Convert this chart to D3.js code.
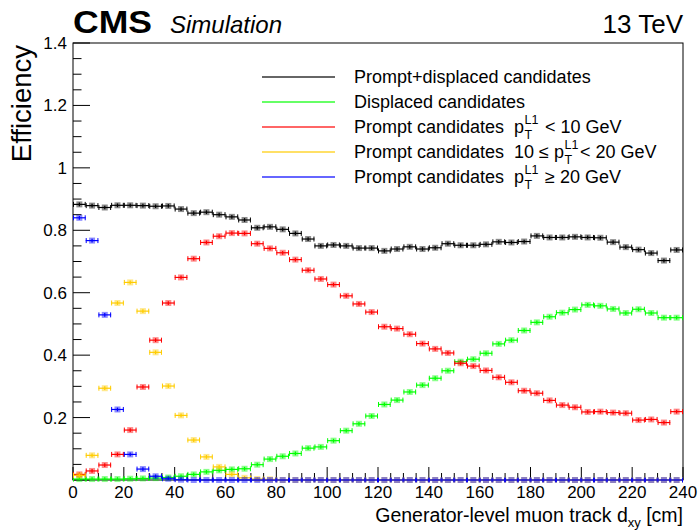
<!DOCTYPE html>
<html><head><meta charset="utf-8">
<script src="https://cdn.jsdelivr.net/npm/d3@7"></script>
<style>
html,body{margin:0;padding:0;background:#fff;}
text{font-family:"Liberation Sans",Arial,Helvetica,sans-serif;white-space:pre;}
</style></head>
<body><svg id="c" width="698" height="531"></svg>
<script>
// ---- data ----
const binCenters = [2.5,7.5,12.5,17.5,22.5,27.5,32.5,37.5,42.5,47.5,52.5,57.5,62.5,67.5,72.5,77.5,82.5,87.5,92.5,97.5,
  102.5,107.5,112.5,117.5,122.5,127.5,132.5,137.5,142.5,147.5,152.5,157.5,162.5,167.5,172.5,177.5,182.5,187.5,192.5,197.5,
  202.5,207.5,212.5,217.5,222.5,227.5,232.5,237.5];
const binHalfWidth = 2.5;
const promptDisplaced = [0.883,0.879,0.873,0.880,0.880,0.879,0.877,0.878,0.868,0.855,0.858,0.850,0.843,0.833,0.808,0.811,0.803,0.790,0.772,0.750,
  0.753,0.750,0.743,0.743,0.734,0.740,0.747,0.740,0.744,0.757,0.752,0.752,0.755,0.763,0.761,0.764,0.782,0.777,0.777,0.779,
  0.777,0.776,0.762,0.746,0.738,0.727,0.703,0.737];
const displaced = [0.003,0.003,0.003,0.003,0.004,0.005,0.006,0.008,0.012,0.018,0.026,0.031,0.034,0.036,0.049,0.067,0.076,0.085,0.102,0.106,
  0.126,0.158,0.180,0.205,0.242,0.256,0.282,0.304,0.326,0.350,0.379,0.387,0.406,0.436,0.448,0.479,0.505,0.523,0.536,0.546,
  0.561,0.558,0.548,0.535,0.547,0.535,0.520,0.520];
const promptLow = [0.018,0.029,0.048,0.082,0.160,0.298,0.448,0.567,0.649,0.709,0.761,0.781,0.791,0.790,0.757,0.742,0.728,0.706,0.672,0.644,
  0.626,0.590,0.564,0.538,0.491,0.485,0.467,0.437,0.420,0.407,0.374,0.365,0.351,0.329,0.313,0.286,0.278,0.255,0.240,0.233,
  0.218,0.219,0.216,0.214,0.192,0.194,0.184,0.219];
const promptMid = [0.015,0.079,0.294,0.567,0.633,0.541,0.409,0.301,0.207,0.128,0.074,0.042,0.018,0.007,0.003,0.002,0,0,0,0,
  0,0,0,0,0,0,0,0,0,0,0,0,0,0,0,0,0,0,0,0,0,0,0,0,0,0,0,0];
const promptHigh = [0.840,0.767,0.529,0.226,0.082,0.035,0.012,0.004,0.001,0,0,0,0,0,0,0,0,0,0,0,
  0,0,0,0,0,0,0,0,0,0,0,0,0,0,0,0,0,0,0,0,0,0,0,0,0,0,0,0];
const errY = [0.006,0.006,0.006,0.006,0.006];
const xTicks = [0,20,40,60,80,100,120,140,160,180,200,220,240];
const yTicks = [0.2,0.4,0.6,0.8,1,1.2,1.4];
const yTickLabels = ["0.2","0.4","0.6","0.8","1","1.2","1.4"];
const seriesNames = ["promptDisplaced","displaced","promptLow","promptMid","promptHigh"];
const seriesColors = ["#000000","#00ff00","#ff0000","#ffcc00","#0000ff"];
const legendLabels = [
  [{t:"Prompt+displaced candidates"}],
  [{t:"Displaced candidates"}],
  [{t:"Prompt candidates  p"},{sub:"T",sup:"L1"},{t:" < 10 GeV"}],
  [{t:"Prompt candidates  10 \u2264 p"},{sub:"T",sup:"L1"},{t:"< 20 GeV"}],
  [{t:"Prompt candidates  p"},{sub:"T",sup:"L1"},{t:" \u2265 20 GeV"}]
];
const seriesValues = [promptDisplaced, displaced, promptLow, promptMid, promptHigh];

// ---- layout ----
const svg = d3.select("#c");
const L = 73, R = 683, T = 43, B = 480;
const x = d3.scaleLinear().domain([0,240]).range([L,R]);
const y = d3.scaleLinear().domain([0,1.4]).range([B,T]);

// frame
svg.append("rect").attr("x",L).attr("y",T).attr("width",R-L).attr("height",B-T)
  .attr("fill","none").attr("stroke","#000").attr("stroke-width",1);

// x axis ticks (inward)
const xMinor = d3.range(0,241,5);
svg.append("g").selectAll("line").data(xMinor).join("line")
  .attr("x1",d=>x(d)).attr("x2",d=>x(d)).attr("y1",B).attr("y2",d=>B-(d%20===0?13:7))
  .attr("stroke","#000").attr("stroke-width",1);
svg.append("g").selectAll("text").data(xTicks).join("text")
  .attr("x",d=>x(d)).attr("y",498).attr("text-anchor","middle").attr("font-size",17).text(d=>d);

// y axis ticks
const yMinor = d3.range(0,1.401,0.05);
svg.append("g").selectAll("line").data(yMinor).join("line")
  .attr("x1",L).attr("x2",(d,i)=>L+(i%4===0?17:8.5)).attr("y1",d=>y(d)).attr("y2",d=>y(d))
  .attr("stroke","#000").attr("stroke-width",1);
svg.append("g").selectAll("text").data(yTicks).join("text")
  .attr("x",67).attr("y",d=>y(d)+6).attr("text-anchor","end").attr("font-size",17).text((d,i)=>yTickLabels[i]);

// axis titles
const xt = svg.append("text").attr("x",R).attr("y",522).attr("text-anchor","end").attr("font-size",19.5);
xt.append("tspan").text("Generator-level muon track d");
xt.append("tspan").attr("font-size",13).attr("dy",5).text("xy");
xt.append("tspan").attr("dy",-5).text(" [cm]");
svg.append("text").attr("transform",`translate(31,${T+2}) rotate(-90)`).attr("text-anchor","end")
  .attr("font-size",27.5).text("Efficiency");

// header
svg.append("text").attr("x",L).attr("y",33).attr("font-size",32).attr("font-weight","bold")
  .attr("textLength",79).attr("lengthAdjust","spacingAndGlyphs").text("CMS");
svg.append("text").attr("x",170).attr("y",33).attr("font-size",24).attr("font-style","italic").text("Simulation");
svg.append("text").attr("x",R).attr("y",33).attr("text-anchor","end").attr("font-size",26).text("13 TeV");

// series
const plot = svg.append("g");
seriesValues.forEach((vals, s) => {
  const col = seriesColors[s];
  const g = plot.append("g").attr("class", seriesNames[s]);
  const pts = binCenters.map((c,i)=>({c, v: vals[i]}));
  g.selectAll("rect").data(pts).join("rect")
    .attr("x",d=>x(d.c)-3).attr("y",d=>y(d.v)-3).attr("width",6).attr("height",6)
    .attr("fill",col).attr("fill-opacity",0.45);
  g.selectAll("line.h").data(pts).join("line").attr("class","h")
    .attr("x1",d=>x(d.c-binHalfWidth)).attr("x2",d=>x(d.c+binHalfWidth))
    .attr("y1",d=>y(d.v)).attr("y2",d=>y(d.v)).attr("stroke",col).attr("stroke-width",1.2);
  g.selectAll("line.cl").data(pts).join("line").attr("class","cl")
    .attr("x1",d=>x(d.c-binHalfWidth)+0.5).attr("x2",d=>x(d.c-binHalfWidth)+0.5)
    .attr("y1",d=>y(d.v)-2.5).attr("y2",d=>y(d.v)+2.5).attr("stroke",col).attr("stroke-width",1);
  g.selectAll("line.cr").data(pts).join("line").attr("class","cr")
    .attr("x1",d=>x(d.c+binHalfWidth)-0.5).attr("x2",d=>x(d.c+binHalfWidth)-0.5)
    .attr("y1",d=>y(d.v)-2.5).attr("y2",d=>y(d.v)+2.5).attr("stroke",col).attr("stroke-width",1);
  g.selectAll("line.v").data(pts.filter(d=>d.v>0)).join("line").attr("class","v")
    .attr("x1",d=>x(d.c)).attr("x2",d=>x(d.c))
    .attr("y1",d=>y(Math.min(1.4,d.v+errY[s]))).attr("y2",d=>y(Math.max(0,d.v-errY[s])))
    .attr("stroke",col).attr("stroke-width",1.2);
});

// legend
const legY = [77,102,127,152,177];
const legFont = 18;
legendLabels.forEach((segs,i)=>{
  const yy = legY[i];
  svg.append("line").attr("x1",262).attr("x2",335).attr("y1",yy).attr("y2",yy)
    .attr("stroke",seriesColors[i]).attr("stroke-opacity",0.6).attr("stroke-width",2);
  let cx = 354; const base = yy+6;
  segs.forEach(sg=>{
    if (sg.t !== undefined) {
      const t = svg.append("text").attr("x",cx).attr("y",base).attr("font-size",legFont).text(sg.t);
      cx += t.node().getComputedTextLength();
    } else {
      const a = svg.append("text").attr("x",cx+0.5).attr("y",base+6).attr("font-size",12.5).text(sg.sub);
      const b = svg.append("text").attr("x",cx+0.5).attr("y",base-9).attr("font-size",12.5).text(sg.sup);
      cx += Math.max(a.node().getComputedTextLength(), b.node().getComputedTextLength()) + 2;
    }
  });
});
</script></body></html>
